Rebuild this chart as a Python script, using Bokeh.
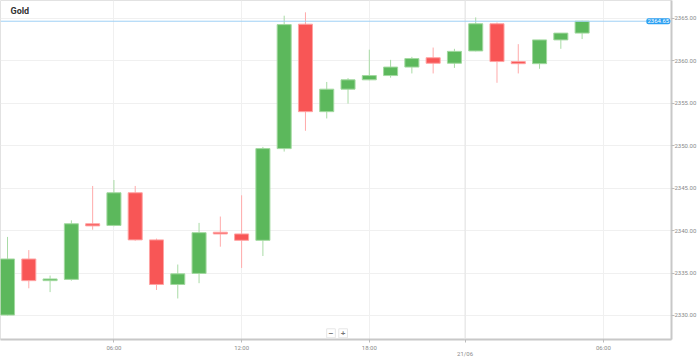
from bokeh.plotting import figure
from bokeh.models import (ColumnDataSource, Range1d, FixedTicker, Span, Label, NumeralTickFormatter)
from bokeh.embed import file_html
from bokeh.resources import INLINE

# ---- data (hourly candles, Gold) ----
opens  = [2330.05, 2336.65, 2334.10, 2334.25, 2340.80, 2340.60, 2344.45, 2338.90, 2333.65, 2334.95,
          2339.80, 2339.60, 2338.85, 2349.65, 2364.30, 2354.00, 2356.65, 2357.75, 2358.25, 2359.25,
          2360.35, 2359.70, 2361.15, 2364.35, 2359.90, 2359.65, 2362.45, 2363.25]
highs  = [2339.25, 2337.70, 2334.70, 2341.20, 2345.25, 2345.95, 2345.25, 2339.05, 2336.00, 2340.90,
          2341.65, 2344.15, 2349.85, 2365.30, 2365.70, 2357.50, 2357.95, 2361.30, 2360.10, 2360.45,
          2361.55, 2361.40, 2365.10, 2364.50, 2361.95, 2362.45, 2363.25, 2364.70]
lows   = [2330.00, 2333.20, 2332.75, 2334.10, 2340.10, 2340.50, 2338.80, 2333.00, 2332.00, 2333.80,
          2338.10, 2335.60, 2337.00, 2349.30, 2351.75, 2353.20, 2354.95, 2357.70, 2358.00, 2358.50,
          2358.50, 2359.15, 2361.10, 2357.40, 2358.50, 2359.05, 2361.40, 2362.55]
closes = [2336.65, 2334.10, 2334.30, 2340.80, 2340.55, 2344.45, 2338.90, 2333.65, 2334.90, 2339.75,
          2339.60, 2338.85, 2349.65, 2364.25, 2354.00, 2356.65, 2357.75, 2358.25, 2359.25, 2360.25,
          2359.70, 2361.10, 2364.35, 2359.90, 2359.65, 2362.45, 2363.25, 2364.65]

x_tick_pos    = [5, 11, 17, 21.5, 28]
x_tick_labels = ["06:00", "12:00", "18:00", "\n21/06", "06:00"]
y_ticks = [2330, 2335, 2340, 2345, 2350, 2355, 2360, 2365]
last_price = 2364.65
title_text = "Gold"

UP, DOWN = "#5cb85c", "#f85656"
UP_EDGE, DOWN_EDGE = "#a3d9a0", "#ffa3a3"
UP_WICK, DOWN_WICK = "#a8dba5", "#ffaaaa"

idx = list(range(len(opens)))
up = [c >= o for o, c in zip(opens, closes)]
src = ColumnDataSource(dict(
    x=idx,
    top=[max(o, c) for o, c in zip(opens, closes)],
    bottom=[min(o, c) for o, c in zip(opens, closes)],
    high=highs, low=lows,
    fill=[UP if u else DOWN for u in up],
    edge=[UP_EDGE if u else DOWN_EDGE for u in up],
    wick=[UP_WICK if u else DOWN_WICK for u in up],
))

p = figure(width=699, height=359, output_backend="svg", toolbar_location=None,
           x_range=Range1d(-0.33, 31.20), y_range=Range1d(2327.17, 2367.09),
           y_axis_location="right", min_border_left=0, min_border_top=0,
           min_border_right=26, min_border_bottom=17)
p.background_fill_color = "white"
p.border_fill_color = "white"
p.outline_line_color = "#e2e2e2"

p.segment(x0="x", y0="high", x1="x", y1="low", source=src, line_color="wick", line_width=1)
p.vbar(x="x", top="top", bottom="bottom", width=0.66, source=src,
       fill_color="fill", line_color="edge", line_width=1)

# axes
p.xaxis.ticker = FixedTicker(ticks=x_tick_pos)
p.xaxis.major_label_overrides = {k: v for k, v in zip(x_tick_pos, x_tick_labels)}
p.yaxis.ticker = FixedTicker(ticks=y_ticks)
p.yaxis.formatter = NumeralTickFormatter(format="0.00")
for ax in (p.xaxis[0], p.yaxis[0]):
    ax.axis_line_color = "#c8c8c8"
    ax.axis_line_width = 2
    ax.major_tick_line_color = "#bbbbbb"
    ax.major_tick_out = 3
    ax.major_tick_in = 0
    ax.minor_tick_line_color = None
    ax.major_label_text_font_size = "6px"
    ax.major_label_text_color = "#8a8a8a"
    ax.major_label_text_font = "Roboto"
    ax.major_label_standoff = 1
p.yaxis.major_label_standoff = 0
p.xaxis.major_label_text_line_height = 0.9
p.xgrid.ticker = FixedTicker(ticks=x_tick_pos)
p.xgrid.grid_line_color = "#f0f0f0"
p.ygrid.grid_line_color = "#f0f0f0"

p.add_layout(Span(location=21.5, dimension="height", line_color="#e4e4e4", line_width=1))
p.add_layout(Span(location=last_price, dimension="width", line_color="#9fd0f5", line_width=1))

# current price tag (kept at the right edge of the plot area)
p.add_layout(Label(x=31.14, y=last_price, text=f"{last_price:.2f}", text_font_size="6px",
                   text_color="white", text_font="Roboto", text_baseline="middle",
                   text_align="right", background_fill_color="#2a9ff2",
                   border_radius=2, padding=1))

p.add_layout(Label(x=0.14, y=2365.8, text=title_text, text_font_size="9px",
                   text_font_style="bold", text_color="#333333", text_font="Roboto",
                   text_baseline="middle"))

# zoom buttons
for xb, sym in ((15.2, "\u2212"), (15.77, "+")):
    p.add_layout(Label(x=xb, y=2327.9, text=sym, text_font_size="8px", text_font_style="bold",
                       text_color="#777777", text_align="center", text_baseline="middle",
                       background_fill_color="white", border_line_color="#e6e6e6",
                       padding=2))

open("out.html", "w").write(file_html(p, INLINE))
